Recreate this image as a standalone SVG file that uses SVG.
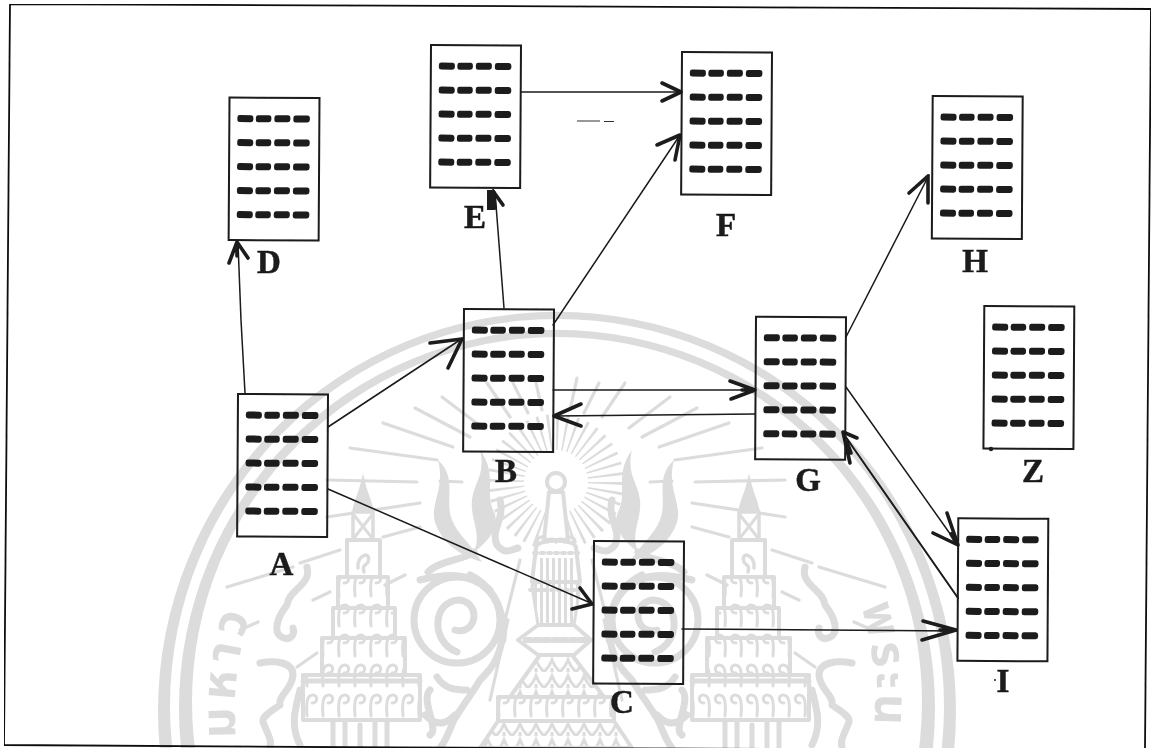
<svg xmlns="http://www.w3.org/2000/svg" xmlns:xlink="http://www.w3.org/1999/xlink" width="1156" height="748" viewBox="0 0 1156 748">
<style>
.wm{fill:none;stroke:#dcdcdc;stroke-linecap:round;stroke-linejoin:round}
.band{fill:#dcdcdc;fill-rule:evenodd;stroke:none}
.ray{stroke-width:3.2}
.vine{stroke-width:7}
.flame{fill:#dcdcdc;stroke:none}
.tier{fill:#fff;stroke-width:4}
.wmt{font-family:"Noto Sans Thai","Noto Sans","DejaVu Sans",sans-serif;font-size:48px;font-weight:700;fill:#dcdcdc}
.box{fill:none;stroke:#1a1a1a;stroke-width:2}
.dash{fill:#1a1a1a}
.conn{fill:none;stroke:#1a1a1a;stroke-width:1.5;stroke-linecap:round}
.head{fill:none;stroke:#1a1a1a;stroke-width:3.6;stroke-linecap:round;stroke-linejoin:round}
.lbl{font-family:"Liberation Serif",serif;font-weight:700;font-size:33px;fill:#1a1a1a;stroke:#1a1a1a;stroke-width:.5;text-anchor:middle}
</style>
<defs>
<filter id="scan" x="0" y="0" width="100%" height="100%"><feGaussianBlur stdDeviation="0.35"/></filter>
<g id="row">
<rect class="dash" x="8" y="-3.500" width="16" height="7" rx="2.500"/>
<rect class="dash" x="26.500" y="-3.500" width="15.500" height="7" rx="2.500"/>
<rect class="dash" x="45" y="-3.500" width="16" height="7" rx="2.500"/>
<rect class="dash" x="64" y="-3.500" width="16.500" height="7" rx="2.500"/>
</g>
<g id="card">
<rect class="box" x="0" y="0" width="90" height="142.500"/>
<use xlink:href="#row" href="#row" y="21"/>
<use xlink:href="#row" href="#row" y="45"/>
<use xlink:href="#row" href="#row" y="69"/>
<use xlink:href="#row" href="#row" y="93"/>
<use xlink:href="#row" href="#row" y="117"/>
</g>
<pattern id="curls" width="16" height="30" patternUnits="userSpaceOnUse">
<path d="M3,26 C2,12 3,5 9,5 C14,5 14,13 8,13" fill="none" stroke="#dcdcdc" stroke-width="3" stroke-linecap="round"/>
</pattern>
<pattern id="scales" width="16" height="16" patternUnits="userSpaceOnUse">
<path d="M0,16 C4,12 6,10 8,4 C10,10 12,12 16,16 M8,16 V12" fill="none" stroke="#dcdcdc" stroke-width="3"/>
</pattern>
<pattern id="stripes" width="6" height="10" patternUnits="userSpaceOnUse">
<rect width="3" height="10" fill="#dcdcdc"/>
</pattern>
<g id="half">
<g class="wm ray">
<path d="M227,587 L293,567 M300,563 L340,550 M383,537 L420,527"/>
<path d="M240,630 L258,622 M297,667 L317,653 M313,600 L330,592 M385,585 L405,575"/>
<path d="M327,517 L420,503"/>
<path d="M327,480 L417,482 M440,481 L462,482"/>
<path d="M350,448 L437,460"/>
<path d="M383,423 L453,447"/>
<path d="M415,408 L470,437"/>
<path d="M442,397 L483,428"/>
<path d="M487,383 L510,417"/>
<path d="M513,383 L528,413"/>
<path d="M535,378 L542,410"/>
<path d="M520,560 L500,640 M508,620 L490,700"/>
</g>
<path class="flame" d="M438,460 C458,478 444,500 452,520 C458,535 472,545 482,562 C462,556 444,545 436,525 C428,505 446,490 438,460 Z"/>
<path class="flame" d="M480,450 C498,475 484,492 494,512 C500,526 490,540 474,552 C482,532 470,520 472,500 C474,482 486,474 480,450 Z"/>
<g class="wm vine">
<path d="M500,500 C505,520 490,530 497,545 C505,555 510,550 518,548"/>
<path d="M474,552 C465,560 440,560 428,572"/>
<circle cx="457" cy="620" r="43"/>
<path d="M457,652 C430,642 432,600 460,600 C482,604 476,636 455,630"/>
<path d="M420,580 C440,575 470,570 490,590 M470,575 C500,590 505,620 503,640"/>
<path d="M503,633 C500,660 490,670 480,680 C468,700 458,712 453,722 C448,735 445,742 440,748"/>
<path d="M437,677 C445,690 458,690 467,690 M425,715 C440,730 450,720 455,715"/>
<path d="M307,567 C312,585 288,590 287,605 C275,620 275,632 280,636 C288,642 296,636 293,628"/>
<path d="M260,663 C275,660 293,662 293,675 C292,690 278,695 280,705 C270,712 262,716 263,722 C268,735 272,740 270,747"/>
<path d="M300,690 C295,710 290,725 300,745"/>
<path d="M430,735 C440,730 420,700 430,690"/>
</g>
<g class="wm">
<path class="flame" d="M363,473 C366,490 372,500 374,512 L352,512 C354,500 360,490 363,473 Z"/>
<rect x="353" y="512" width="20" height="28" style="fill:#fff" stroke-width="3.500"/>
<path d="M354,515 L372,538 M372,515 L354,538" stroke-width="3"/>
<rect class="tier" x="347" y="540" width="33" height="37"/>
<path d="M358,568 C356,555 372,550 368,562 C366,566 362,564 364,572" stroke-width="3.500"/>
<rect class="tier" x="338" y="577" width="50" height="31" style="fill:url(#curls)"/>
<rect class="tier" x="333" y="608" width="62" height="30" style="fill:url(#curls)"/>
<rect class="tier" x="322" y="638" width="83" height="37" style="fill:url(#curls)"/>
<rect class="tier" x="303" y="675" width="117" height="45" style="fill:url(#curls)"/>
<path d="M303,681 H420" stroke-width="5"/>
<path d="M333,722 V748 M387,722 V748 M345,722 V748 M375,722 V748 M360,725 V748" stroke-width="5"/>
</g>
</g>
</defs>
<rect width="1156" height="748" fill="#fff"/>
<g filter="url(#scan)">
<g id="watermark">
<path class="band" d="M158,711 a399,399 0 1 1 798,0 a399,399 0 1 1 -798,0 Z M170,706 a387,387 0 1 1 774,0 a387,387 0 1 1 -774,0 Z"/>
<path class="band" d="M179,708 a378,378 0 1 1 756,0 a378,378 0 1 1 -756,0 Z M192,702 a365,365 0 1 1 730,0 a365,365 0 1 1 -730,0 Z"/>
<circle class="wm" cx="556" cy="482" r="50" stroke-width="36" stroke-dasharray="2.200 5.650" style="stroke-linecap:butt"/>
<circle cx="556" cy="482" r="28" fill="#fff"/>
<use xlink:href="#half" href="#half"/>
<use xlink:href="#half" href="#half" transform="matrix(-1 0 0 1 1112 0)"/>
<g class="wm">
<path d="M544,540 L549,492 L563,492 L568,540 Z" style="fill:#fff" stroke-width="4"/>
<circle cx="556" cy="482" r="9" style="fill:#fff" stroke-width="4"/>
<path d="M536,548 C536,538 576,538 576,548 L580,582 L532,582 Z" style="fill:#fff" stroke-width="4"/>
<path d="M537,542 a5 5 0 0 1 10,0 a5 5 0 0 1 9,0 a5 5 0 0 1 9,0 a5 5 0 0 1 10,0" stroke-width="3.500"/>
<path d="M534,553 H578" stroke-width="4" stroke-dasharray="3 4"/>
<rect x="538" y="558" width="36" height="22" style="fill:url(#stripes);stroke:none"/>
<path d="M532,586 C532,580 580,580 580,586 L574,625 L538,625 Z" style="fill:url(#stripes)" stroke-width="3"/>
<path d="M530,590 H582" stroke-width="4" stroke-dasharray="3 4"/>
<path d="M518,640 L538,625 L574,625 L591,640 L574,655 L538,655 Z" style="fill:#fff" stroke-width="4"/>
<path d="M526,640 H586" stroke-width="6" stroke-dasharray="5 4"/>
<path d="M540,655 L572,655 L604,697 L510,697 Z" style="fill:url(#scales)" stroke-width="4"/>
<rect x="498" y="697" width="116" height="24" style="fill:url(#curls)" stroke-width="4"/>
<path d="M498,721 L614,721 L632,748 L480,748 Z" style="fill:url(#scales)" stroke-width="4"/>
</g>
<path id="wmL" d="M236,738 A322,322 0 0 1 301,516" fill="none"/>
<path id="wmR" d="M861,606 A322,322 0 0 1 872,746" fill="none"/>
<text class="wmt" letter-spacing="6"><textPath xlink:href="#wmL" href="#wmL">มหาว</textPath></text>
<text class="wmt" letter-spacing="4"><textPath xlink:href="#wmR" href="#wmR">พระน</textPath></text>
</g>
<g id="frame"><path d="M10,4 L1151,9 L1145,748 M4,745 L10,4 M4,745 L400,747.500 L800,749" fill="none" stroke="#111" stroke-width="1.800"/>
<path d="M577,121 H600 M604,121.500 H614" stroke="#333" stroke-width="1.200" fill="none"/>
<circle cx="995" cy="680" r="1" fill="#222"/><circle cx="991" cy="449" r="2.200" fill="#222"/>
</g>
<g id="connectors">
<path class="conn" d="M245,393 L241,320 L238,243"/><path class="head" d="M229,263 L237,242 L248,258 M237,242 V256"/>
<path class="conn" d="M504,308 L495,192"/><path class="head" d="M503,205 L493,191 L495,208"/><path d="M487,190 H495 V210 H487 Z" fill="#1a1a1a"/>
<path class="conn" d="M521,92 L680,92"/><path class="head" d="M662,83 L681,92 L662,101"/>
<path class="conn" d="M553,325 L680,135"/><path class="head" d="M657,145 L680,135 L675,160"/>
<path class="conn" d="M846,337 L929,175"/><path class="head" d="M909,193 L928,176 L928,203"/>
<path class="conn" d="M328,427 L463,338"/><path class="head" d="M430,343 L462,339 L448,368"/>
<path class="conn" d="M328,489 L593,604"/><path class="head" d="M580,588 L592,604 L572,609"/>
<path class="conn" d="M682,629 L957,631"/><path class="head" d="M923,621 L956,630 L922,640 M940,630 H956"/>
<path class="conn" d="M553,390 L755,390"/><path class="head" d="M730,381 L755,390 L731,399 M742,390 H755"/>
<path class="conn" d="M755,414 L554,416"/><path class="head" d="M581,404 L554,416 L581,426"/>
<path class="conn" d="M846,387 L958,545"/><path class="head" d="M947,513 L958,545 L933,533 M951,534 L957,544"/>
<path class="conn" d="M958,598 L843,433" style="stroke-width:2"/><path class="head" d="M857,438 L843,432 L850,463 M847,442 L851,453"/>
</g>
<g id="node-D"><use xlink:href="#card" href="#card" transform="translate(229.500,97.500) rotate(.35)"/><text class="lbl" x="269" y="273">D</text></g>
<g id="node-E"><use xlink:href="#card" href="#card" transform="translate(431,45) rotate(.35)"/><text class="lbl" x="475" y="228">E</text></g>
<g id="node-F"><use xlink:href="#card" href="#card" transform="translate(682,52) rotate(.35)"/><text class="lbl" x="726" y="236">F</text></g>
<g id="node-H"><use xlink:href="#card" href="#card" transform="translate(932.700,96) rotate(.35)"/><text class="lbl" x="975" y="272">H</text></g>
<g id="node-A"><use xlink:href="#card" href="#card" transform="translate(238,394) rotate(.35)"/><text class="lbl" x="281.500" y="575">A</text></g>
<g id="node-B"><use xlink:href="#card" href="#card" transform="translate(464,309) rotate(.35)"/><text class="lbl" x="506" y="482">B</text></g>
<g id="node-G"><use xlink:href="#card" href="#card" transform="translate(756,316.700) rotate(.35)"/><text class="lbl" x="808" y="491">G</text></g>
<g id="node-Z"><use xlink:href="#card" href="#card" transform="translate(984.300,306) rotate(.35)"/><text class="lbl" x="1033" y="482">Z</text></g>
<g id="node-I"><use xlink:href="#card" href="#card" transform="translate(958.300,518.300) rotate(.35)"/><text class="lbl" x="1003" y="692">I</text></g>
<g id="node-C"><use xlink:href="#card" href="#card" transform="translate(594,541) rotate(.35)"/><text class="lbl" x="622" y="713">C</text></g>
</g>
</svg>
